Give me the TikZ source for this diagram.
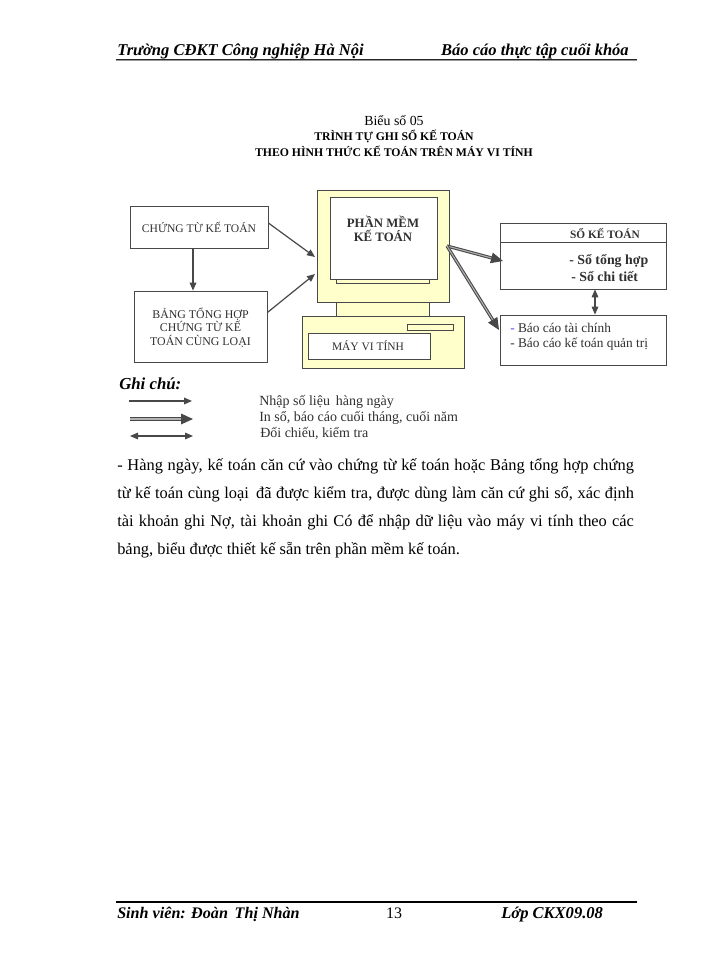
\documentclass[tikz,border=0pt]{standalone}
\usepackage{fontspec}
\setmainfont{Liberation Serif}
\usetikzlibrary{fit,arrows.meta}
\definecolor{ln}{HTML}{484848}
\definecolor{pale}{HTML}{FFFFCC}
\definecolor{txt}{HTML}{303030}
\tikzset{
  box/.style={draw=ln,line width=.6pt,inner sep=0pt},
  yel/.style={box,fill=pale},
  wht/.style={box,fill=white},
  lbl/.style={inner sep=0pt,anchor=west,text=txt},
  ttl/.style={inner sep=0pt,align=center,text=txt},
  head/.style={inner sep=0pt,font=\fontsize{12.4}{14}\selectfont\bfseries\itshape,text=black,anchor=base west},
  bodyline/.style={inner sep=0pt,anchor=base west,font=\fontsize{12.3}{14}\selectfont},
  thin arrow/.style={draw=ln,line width=.9pt,-{Triangle[length=6pt,width=5pt]}},
  both arrow/.style={draw=ln,line width=.8pt,{Triangle[length=6pt,width=5pt]}-{Triangle[length=6pt,width=5pt]}},
  dbl arrow/.style={draw=ln,line width=.8pt,double=black!30,double distance=.8pt,-{Triangle[length=9pt,width=8pt]}}
}
\newcommand{\jl}[1]{\makebox[387.5pt][s]{#1}}
\begin{document}
\begin{tikzpicture}[x=.75pt,y=-.75pt]
\useasboundingbox (0,0) rectangle (700,960);
\fill[white] (0,0) rectangle (700,960);
% header
\node[head] (h1) at (117,55) {Trường CĐKT Công nghiệp Hà Nội};
\node[head,anchor=base east] (h2) at (629,55) {Báo cáo thực tập cuối khóa};
\coordinate (hl) at (116,60); \coordinate (hr) at (637,60);
\draw[black!85,line width=.6pt,double=white!60!black,double distance=.5pt] (hl) -- (hr);
% titles
\node[inner sep=0pt,font=\fontsize{10.4}{12}\selectfont] (t1) at (394,121) {Biểu số 05};
\node[ttl,text=black,font=\fontsize{8.8}{10}\selectfont\bfseries] (t2) at (394,136.5) {TRÌNH TỰ GHI SỔ KẾ TOÁN};
\node[ttl,text=black,font=\fontsize{8.8}{10}\selectfont\bfseries] (t3) at (394,151) {THEO HÌNH THỨC KẾ TOÁN TRÊN MÁY VI TÍNH};
% left boxes
\coordinate (a1) at (130,206); \coordinate (a2) at (268,248);
\node[box,fit=(a1)(a2)] (ct) {};
\node[ttl,font=\fontsize{8.7}{10}\selectfont] (ctt) at (ct.center) {CHỨNG TỪ KẾ TOÁN};
\coordinate (b1) at (134,291); \coordinate (b2) at (267,362);
\node[box,fit=(b1)(b2)] (bt) {};
\node[ttl,font=\fontsize{8.9}{10}\selectfont] (btt) at (200.5,327.5) {BẢNG TỔNG HỢP\\CHỨNG TỪ KẾ\\TOÁN CÙNG LOẠI};
% computer
\coordinate (n1) at (336,302); \coordinate (n2) at (429,316);
\node[yel,fit=(n1)(n2)] (neck) {};
\coordinate (m1) at (317,190); \coordinate (m2) at (449,302);
\node[yel,fit=(m1)(m2)] (mon) {};
\coordinate (l1) at (336,277); \coordinate (l2) at (429,283);
\node[yel,fit=(l1)(l2)] (lip) {};
\coordinate (s1) at (330,197); \coordinate (s2) at (437,279);
\node[wht,fit=(s1)(s2)] (scr) {};
\node[ttl,font=\fontsize{9.6}{10.5}\selectfont\bfseries] (pm) at (383,229) {PHẦN MỀM\\KẾ TOÁN};
\coordinate (c1) at (302,316); \coordinate (c2) at (464,368);
\node[yel,fit=(c1)(c2)] (base) {};
\coordinate (d1) at (407,324); \coordinate (d2) at (453,330);
\node[box,fit=(d1)(d2)] (slot) {};
\coordinate (e1) at (308,333); \coordinate (e2) at (430,359);
\node[wht,fit=(e1)(e2)] (mvt) {};
\node[ttl,font=\fontsize{8.6}{10}\selectfont] (mvtt) at (368,345.5) {MÁY VI TÍNH};
% right boxes
\coordinate (f1) at (500,223); \coordinate (f2) at (666,242);
\node[box,fit=(f1)(f2)] (sk) {};
\node[ttl,font=\fontsize{8.5}{10}\selectfont\bfseries] (skt) at (605,234) {SỔ KẾ TOÁN};
\coordinate (g1) at (500,242); \coordinate (g2) at (666,289);
\node[box,fit=(g1)(g2)] (sb) {};
\node[lbl,font=\fontsize{10.4}{12}\selectfont\bfseries] (sb1) at (569,261) {- Sổ tổng hợp};
\node[lbl,font=\fontsize{10.4}{12}\selectfont\bfseries] (sb2) at (571,277) {- Sổ chi tiết};
\coordinate (i1) at (500,315); \coordinate (i2) at (666,365);
\node[box,fit=(i1)(i2)] (bc) {};
\node[lbl,font=\fontsize{10}{12}\selectfont] (bc1) at (510,328) {\textcolor{blue!70}{-} Báo cáo tài chính};
\node[lbl,font=\fontsize{10}{12}\selectfont] (bc2) at (510,344) {- Báo cáo kế toán quản trị};
% connectors
\coordinate (p1) at (315,257); \coordinate (p2) at (315,274);
\coordinate (q0) at (447,246); \coordinate (q1) at (503,261); \coordinate (q2) at (499,330);
\draw[thin arrow] (ct.south -| 193,0) -- (bt.north -| 193,0);
\draw[thin arrow] ([yshift=3pt]ct.east) -- (p1);
\draw[thin arrow] ([yshift=10.5pt]bt.east) -- (p2);
\draw[dbl arrow] (q0) -- (q1);
\draw[dbl arrow] (q0) -- (q2);
\draw[both arrow] (sb.south -| 595,0) -- (bc.north -| 595,0);
% legend
\node[lbl,font=\fontsize{12.6}{14}\selectfont\bfseries\itshape,text=black] (gc) at (119,384) {Ghi chú:};
\coordinate (u1) at (129,401); \coordinate (u2) at (192,401);
\coordinate (v1) at (130,419); \coordinate (v2) at (193,419);
\coordinate (w1) at (130,436); \coordinate (w2) at (193,436);
\draw[thin arrow] (u1) -- (u2);
\draw[dbl arrow] (v1) -- (v2);
\draw[both arrow] (w1) -- (w2);
\node[lbl,font=\fontsize{10.5}{12}\selectfont] (x1) at (259,402) {Nhập số liệu\, hàng ngày};
\node[lbl,font=\fontsize{10.5}{12}\selectfont] (x2) at (259,418) {In sổ, báo cáo cuối tháng, cuối năm};
\node[lbl,font=\fontsize{10.5}{12}\selectfont] (x3) at (260,433) {Đối chiếu, kiểm tra};
% body
\node[bodyline] (y1) at (117,470) {\jl{- Hàng ngày, kế toán căn cứ vào chứng từ kế toán hoặc Bảng tổng hợp chứng}};
\node[bodyline] (y2) at (117,498) {\jl{từ kế toán cùng loại\, đã được kiểm tra, được dùng làm căn cứ ghi sổ, xác định}};
\node[bodyline] (y3) at (117,526) {\jl{tài khoản ghi Nợ, tài khoản ghi Có để nhập dữ liệu vào máy vi tính theo các}};
\node[bodyline] (y4) at (117,554) {bảng, biểu được thiết kế sẵn trên phần mềm kế toán.};
% footer
\coordinate (fl) at (116,902); \coordinate (fr) at (637,902);
\draw[black,line width=.9pt] (fl) -- (fr);
\node[head,font=\fontsize{12.1}{14}\selectfont\bfseries\itshape] (z1) at (117,918) {Sinh viên: Đoàn\, Thị Nhàn};
\node[inner sep=0pt,anchor=base,font=\fontsize{12}{14}\selectfont] (z2) at (394,918) {13};
\node[head,font=\fontsize{12.4}{14}\selectfont\bfseries\itshape] (z3) at (501,918) {Lớp CKX09.08};
\end{tikzpicture}
\end{document}
